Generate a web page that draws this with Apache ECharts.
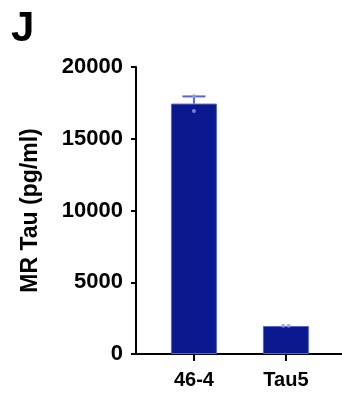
<!DOCTYPE html>
<html>
<head>
<meta charset="utf-8">
<script src="https://cdn.jsdelivr.net/npm/echarts@6/dist/echarts.min.js"></script>
<style>
  html, body { margin: 0; padding: 0; background: #fff; }
  #chart { width: 342px; height: 394px; }
</style>
</head>
<body>
<div id="chart"></div>
<script>
// Groups and measured MR Tau concentrations (pg/ml)
const categories = ['46-4', 'Tau5'];
const meanValues = [17450, 1950];
const errorUpper = [17950, null];
const pointValues = [[16930, 17970], [1970, 1970]];
const yTicks = [0, 5000, 10000, 15000, 20000];

const FONT = 'Liberation Sans, Arial, sans-serif';
const BAR = '#0a1a8e';
const EDGE = '#5565d8';

const barData = meanValues.map((v, i) => [i, v]);
const errData = errorUpper.map((v, i) => v == null ? null : [i, meanValues[i], v]).filter(Boolean);
const dotData = [];
pointValues.forEach((pts, i) => pts.forEach((v, k) => {
  // slight horizontal spread so coincident points stay visible
  const spread = pts.length > 1 && Math.abs(pts[0] - pts[1]) < 200 ? (k === 0 ? -0.03 : 0.03) : 0;
  dotData.push([i + spread, v]);
}));

const chart = echarts.init(document.getElementById('chart'), null, { renderer: 'canvas' });
chart.setOption({
  animation: false,
  backgroundColor: '#fff',
  title: {
    text: 'J', left: 6, top: 3,
    textStyle: { fontFamily: FONT, fontWeight: 'bold', fontSize: 42, color: '#000' }
  },
  grid: { left: 136, right: 0, top: 67, bottom: 40, containLabel: false },
  xAxis: {
    type: 'value', min: -0.63, max: 1.61,
    splitLine: { show: false },
    axisLine: { show: true, onZero: false, lineStyle: { color: '#000', width: 2 } },
    axisTick: { show: true, length: 7, lineStyle: { color: '#000', width: 2 }, customValues: [0, 1] },
    axisLabel: {
      customValues: [0, 1], margin: 16,
      formatter: v => categories[Math.round(v)],
      fontFamily: FONT, fontWeight: 'bold', fontSize: 20, color: '#000'
    }
  },
  yAxis: {
    type: 'value', min: yTicks[0], max: yTicks[yTicks.length - 1], interval: 5000,
    name: 'MR Tau (pg/ml)', nameLocation: 'middle', nameGap: 94,
    nameTextStyle: { fontFamily: FONT, fontWeight: 'bold', fontSize: 23, color: '#000' },
    splitLine: { show: false },
    axisLine: { show: true, onZero: false, lineStyle: { color: '#000', width: 2 } },
    axisTick: { show: true, length: 5, lineStyle: { color: '#000', width: 2 } },
    axisLabel: {
      margin: 13, formatter: v => String(v),
      fontFamily: FONT, fontWeight: 'bold', fontSize: 22, color: '#000'
    }
  },
  series: [
    {
      type: 'bar', data: barData, barWidth: 46,
      itemStyle: { color: BAR, borderColor: EDGE, borderWidth: 1 },
      z: 2
    },
    {
      type: 'custom', data: errData, z: 3,
      renderItem: (params, api) => {
        const x = api.value(0);
        const top = api.coord([x, api.value(2)]);
        const base = api.coord([x, api.value(1)]);
        const half = 11.5;
        return {
          type: 'group',
          children: [
            { type: 'line', shape: { x1: top[0], y1: base[1], x2: top[0], y2: top[1] },
              style: { stroke: EDGE, lineWidth: 2 } },
            { type: 'line', shape: { x1: top[0] - half, y1: top[1], x2: top[0] + half, y2: top[1] },
              style: { stroke: EDGE, lineWidth: 2 } }
          ]
        };
      }
    },
    {
      type: 'scatter', data: dotData, symbolSize: 4, z: 4,
      itemStyle: { color: '#8f9cf0' }
    }
  ]
});
</script>
</body>
</html>
